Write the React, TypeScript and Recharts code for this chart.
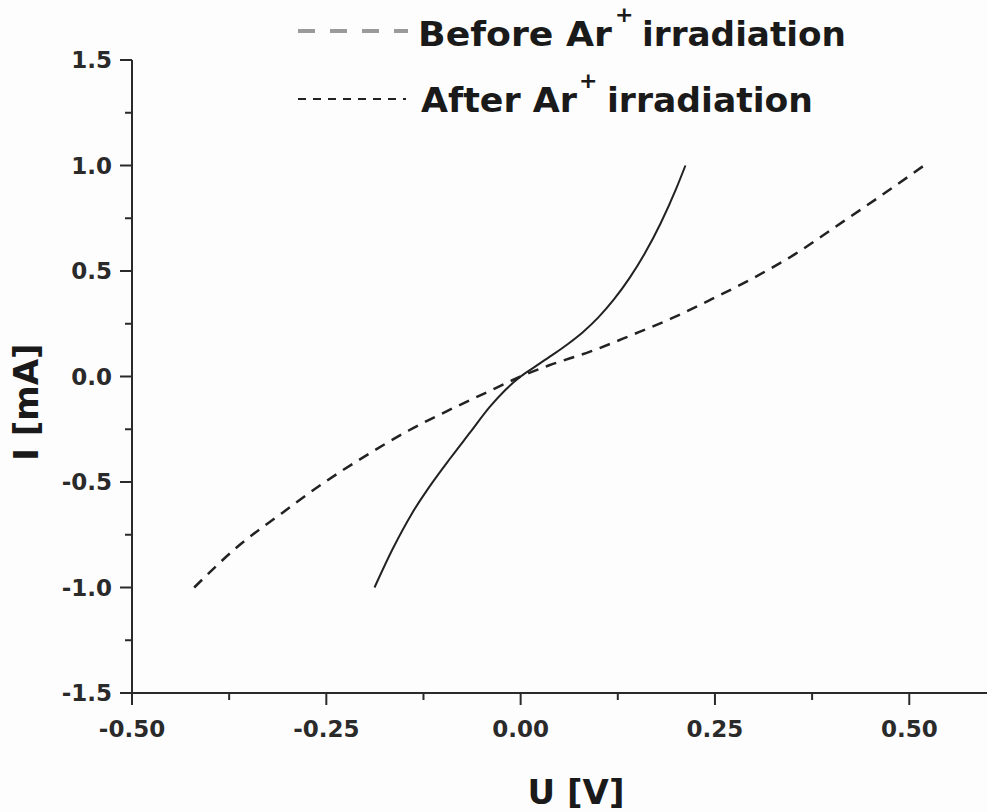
import { LineChart, Line, XAxis, YAxis, Legend, Label } from "recharts";

// U [V] and I [mA]
const beforeU = [-0.188, -0.165, -0.14, -0.115, -0.09, -0.065, -0.04, -0.02, 0, 0.02, 0.04, 0.06, 0.08, 0.1, 0.12, 0.14, 0.16, 0.18, 0.2, 0.212];
const beforeI = [-1.0, -0.82, -0.65, -0.51, -0.385, -0.265, -0.145, -0.065, 0, 0.05, 0.1, 0.152, 0.21, 0.28, 0.365, 0.466, 0.585, 0.725, 0.889, 1.0];

const afterU = [-0.42, -0.362, -0.308, -0.255, -0.199, -0.144, -0.088, -0.032, 0, 0.036, 0.091, 0.142, 0.194, 0.245, 0.301, 0.353, 0.404, 0.459, 0.519];
const afterI = [-1.0, -0.8, -0.65, -0.508, -0.375, -0.256, -0.152, -0.055, 0, 0.052, 0.12, 0.195, 0.275, 0.365, 0.47, 0.58, 0.707, 0.845, 1.0];

const xTicks = [-0.5, -0.375, -0.25, -0.125, 0, 0.125, 0.25, 0.375, 0.5];
const xLabels = ["-0.50", "-0.25", "0.00", "0.25", "0.50"];
const yTicks = [-1.5, -1.25, -1.0, -0.75, -0.5, -0.25, 0, 0.25, 0.5, 0.75, 1.0, 1.25, 1.5];

const beforeData = beforeU.map((u, i) => ({ u, i: beforeI[i] }));
const afterData = afterU.map((u, i) => ({ u, i: afterI[i] }));

const FONT = "'DejaVu Sans', 'Liberation Sans', Arial, sans-serif";
const INK = "#2a2a2a";

function XTick(props: any) {
  const { x, y, payload } = props;
  const v = payload.value as number;
  const major = Math.abs(v * 4 - Math.round(v * 4)) < 1e-6;
  return (
    <g>
      <line x1={x} x2={x} y1={y} y2={y + (major ? 12 : 7)} stroke={INK} strokeWidth={2} />
      {major && (
        <text x={x} y={y + 44} textAnchor="middle" fontFamily={FONT} fontWeight="bold" fontSize={23} fill={INK}>
          {xLabels[Math.round(v * 4) + 2]}
        </text>
      )}
    </g>
  );
}

function YTick(props: any) {
  const { x, y, payload } = props;
  const v = payload.value as number;
  const major = Math.abs(v * 2 - Math.round(v * 2)) < 1e-6;
  return (
    <g>
      <line x1={x - (major ? 12 : 7)} x2={x} y1={y} y2={y} stroke={INK} strokeWidth={2} />
      {major && (
        <text x={x - 20} y={y + 8} textAnchor="end" fontFamily={FONT} fontWeight="bold" fontSize={23} fill={INK}>
          {v.toFixed(1)}
        </text>
      )}
    </g>
  );
}

function LegendBox() {
  const txt = { fontFamily: FONT, fontWeight: "bold" as const, fill: "#1a1a1a" };
  return (
    <svg width={987} height={130} style={{ display: "block" }}>
      <line x1={298} x2={408} y1={31} y2={31} stroke="#9a9a9a" strokeWidth={4} strokeDasharray="17 15" />
      <text x={418} y={46} fontSize={33} textLength={194} lengthAdjust="spacingAndGlyphs" {...txt}>Before Ar</text>
      <text x={615} y={22} fontSize={22} {...txt}>+</text>
      <text x={642} y={46} fontSize={33} textLength={204} lengthAdjust="spacingAndGlyphs" {...txt}>irradiation</text>

      <line x1={298} x2={406} y1={99} y2={99} stroke="#222" strokeWidth={2} strokeDasharray="8 7" />
      <text x={421} y={112} fontSize={33} textLength={156} lengthAdjust="spacingAndGlyphs" {...txt}>After Ar</text>
      <text x={579} y={88} fontSize={22} {...txt}>+</text>
      <text x={607} y={112} fontSize={33} textLength={206} lengthAdjust="spacingAndGlyphs" {...txt}>irradiation</text>
    </svg>
  );
}

export default function App() {
  return (
    <div style={{ position: "absolute", left: 0, top: 0, width: 987, height: 812, background: "#fdfdfd" }}>
      <LineChart width={987} height={812} data={beforeData} margin={{ top: 60, right: 0, bottom: 0, left: 0 }}>
        <XAxis
          dataKey="u"
          type="number"
          domain={[-0.5, 0.6]}
          ticks={xTicks}
          interval={0}
          height={119}
          axisLine={{ stroke: INK, strokeWidth: 2 }}
          tickLine={false}
          tickSize={0}
          tickMargin={0}
          tick={<XTick />}
        >
          <Label
            content={(p: any) => {
              const vb = p.viewBox;
              return (
                <text x={vb.x + 444} y={vb.y + 111} textAnchor="middle" fontFamily={FONT} fontWeight="bold" fontSize={34} fill="#1a1a1a">
                  U [V]
                </text>
              );
            }}
          />
        </XAxis>
        <YAxis
          dataKey="i"
          type="number"
          domain={[-1.5, 1.5]}
          ticks={yTicks}
          interval={0}
          width={132}
          axisLine={{ stroke: INK, strokeWidth: 2 }}
          tickLine={false}
          tickSize={0}
          tickMargin={0}
          tick={<YTick />}
        >
          <Label
            content={(p: any) => {
              const vb = p.viewBox;
              const cx = 26;
              const cy = vb.y + 342;
              return (
                <text x={cx} y={cy} transform={`rotate(-90 ${cx} ${cy})`} textAnchor="middle" dominantBaseline="central" fontFamily={FONT} fontWeight="bold" fontSize={34} fill="#1a1a1a">
                  I [mA]
                </text>
              );
            }}
          />
        </YAxis>
        <Legend
          layout="horizontal"
          verticalAlign="middle"
          align="center"
          wrapperStyle={{ position: "absolute", left: 0, top: 0, width: 987, height: 130 }}
          content={() => <LegendBox />}
        />
        <Line
          data={beforeData}
          dataKey="i"
          type="monotone"
          stroke="#222"
          strokeWidth={2}
          dot={false}
          isAnimationActive={false}
        />
        <Line
          data={afterData}
          dataKey="i"
          type="monotone"
          stroke="#222"
          strokeWidth={2.5}
          strokeDasharray="11 8"
          dot={false}
          isAnimationActive={false}
        />
      </LineChart>
    </div>
  );
}
